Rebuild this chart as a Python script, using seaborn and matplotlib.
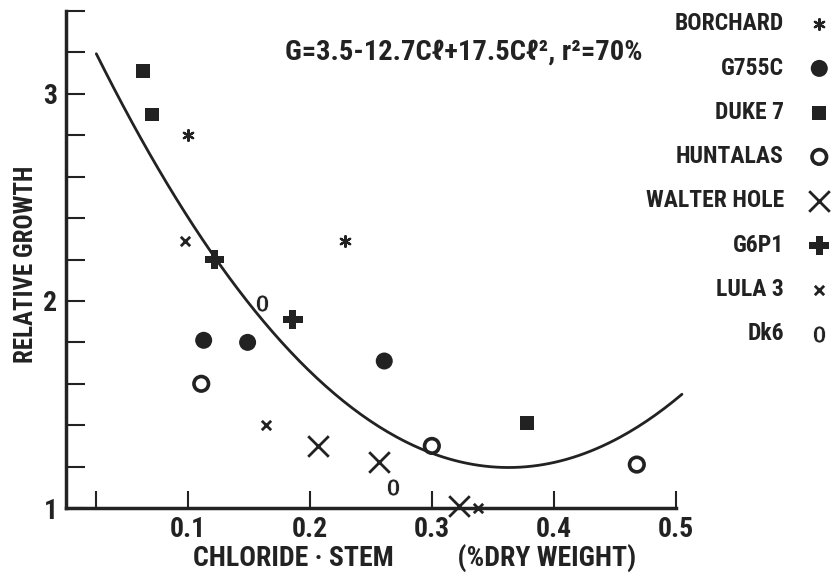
import numpy as np
import pandas as pd
import matplotlib
matplotlib.use('Agg')
import matplotlib.pyplot as plt
import seaborn as sns

# ── data ─────────────────────────────────────────────────────
varieties = ['BORCHARD', 'G755C', 'DUKE 7', 'HUNTALAS',
             'WALTER HOLE', 'G6P1', 'LULA 3', 'Dk6']
chloride = {
    'BORCHARD':    [0.100, 0.229],
    'G755C':       [0.113, 0.149, 0.261],
    'DUKE 7':      [0.063, 0.071, 0.378],
    'HUNTALAS':    [0.111, 0.300, 0.468],
    'WALTER HOLE': [0.207, 0.257, 0.322],
    'G6P1':        [0.122, 0.186],
    'LULA 3':      [0.098, 0.164, 0.338],
    'Dk6':         [0.161, 0.268],
}
growth = {
    'BORCHARD':    [2.80, 2.29],
    'G755C':       [1.81, 1.80, 1.71],
    'DUKE 7':      [3.11, 2.90, 1.41],
    'HUNTALAS':    [1.60, 1.30, 1.21],
    'WALTER HOLE': [1.30, 1.22, 1.01],
    'G6P1':        [2.20, 1.91],
    'LULA 3':      [2.29, 1.40, 1.00],
    'Dk6':         [1.99, 1.10],
}
# fitted quadratic G = a + b*Cl + c*Cl^2 (from the equation on the chart)
fit_coef = [3.5, -12.7, 17.5]
fit_range = [0.025, 0.505]

rows = []
for v in varieties:
    for x, y in zip(chloride[v], growth[v]):
        rows.append({'variety': v, 'chloride': x, 'growth': y})
df = pd.DataFrame(rows)

xfit = np.linspace(fit_range[0], fit_range[1], 200)
fit_df = pd.DataFrame({'chloride': xfit,
                       'growth': fit_coef[0] + fit_coef[1] * xfit + fit_coef[2] * xfit ** 2})

ink = '#222222'
# marker styles per variety
styles = {
    'BORCHARD':    dict(marker=(6, 2, 0), s=60, linewidth=1.6, color=ink),
    'G755C':       dict(marker='o', s=150, color=ink, edgecolor='none'),
    'DUKE 7':      dict(marker='s', s=100, color=ink, edgecolor='none'),
    'HUNTALAS':    dict(marker='o', s=110, facecolor='none', edgecolor=ink, linewidth=2.6),
    'WALTER HOLE': dict(marker='x', s=220, color=ink, linewidth=2.0),
    'G6P1':        dict(marker='P', s=200, color=ink, edgecolor='none'),
    'LULA 3':      dict(marker='x', s=45, color=ink, linewidth=2.0),
    'Dk6':         dict(marker='$0$', s=150, color=ink, linewidth=0.6),
}

# ── plot ─────────────────────────────────────────────────────
sns.set_style('ticks')
plt.rcParams['font.family'] = ['Roboto Condensed', 'DejaVu Sans']
plt.rcParams['font.stretch'] = 'condensed'
plt.rcParams['font.weight'] = 'bold'
plt.rcParams['axes.labelweight'] = 'bold'

fig = plt.figure(figsize=(8.33, 5.78), dpi=100)
ax = fig.add_axes([0.079, 0.121, 0.747, 0.860])

sns.lineplot(data=fit_df, x='chloride', y='growth', ax=ax,
             color=ink, linewidth=2.0, clip_on=False)

for v in varieties:
    sub = df[df['variety'] == v]
    sns.scatterplot(data=sub, x='chloride', y='growth', ax=ax,
                    label=v, clip_on=False, zorder=3, **styles[v])

ax.text(0.18, 3.20, 'G=3.5-12.7Cℓ+17.5Cℓ², r²=70%',
        fontsize=20.5, va='center', ha='left', color=ink)

ax.set_xlim(0, 0.51)
ax.set_ylim(1, 3.4)
ax.spines['bottom'].set_bounds(0, 0.5)
for side in ['top', 'right']:
    ax.spines[side].set_visible(False)
for side in ['left', 'bottom']:
    ax.spines[side].set_linewidth(2.5)
    ax.spines[side].set_color(ink)

ax.set_xticks([0.1, 0.2, 0.3, 0.4, 0.5])
ax.set_xticklabels(['0.1', '0.2', '0.3', '0.4', '0.5'])
ax.set_xticks([0.025], minor=True)
ax.set_yticks([1, 2, 3])
ax.set_yticklabels(['1', '2', '3'])
ax.set_yticks([1.2, 1.4, 1.6, 1.8, 2.2, 2.4, 2.6, 2.8, 3.2, 3.4], minor=True)
ax.tick_params(axis='both', which='both', direction='in', color=ink,
               width=1.5, labelsize=20, labelcolor=ink)
ax.tick_params(axis='x', which='major', length=12, pad=6)
ax.tick_params(axis='x', which='minor', length=12)
ax.tick_params(axis='y', which='both', length=14, pad=6)

ax.set_xlabel('CHLORIDE · STEM          (%DRY WEIGHT)', fontsize=20, color=ink,
              va='top')
ax.set_ylabel('RELATIVE GROWTH', fontsize=18, color=ink)
ax.xaxis.set_label_coords(0.56, -0.072)
ax.yaxis.set_label_coords(-0.045, 0.49)

leg = ax.legend(loc='upper right', bbox_to_anchor=(1.264, 1.04), frameon=False,
                markerfirst=False, fontsize=17, labelspacing=0.9,
                handlelength=1.0, handletextpad=1.0, labelcolor=ink)

plt.savefig('out.png', dpi=100)
